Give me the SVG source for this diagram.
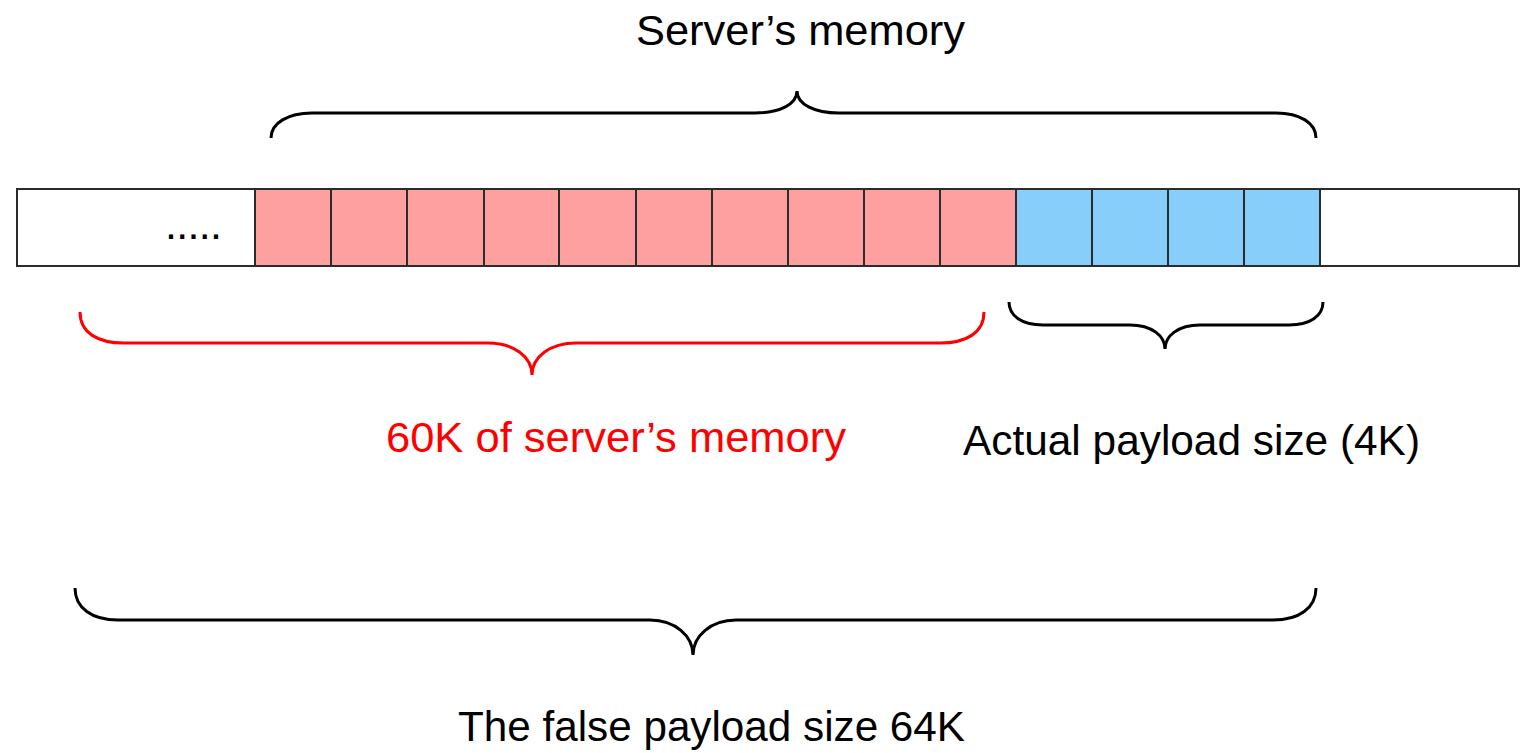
<svg xmlns="http://www.w3.org/2000/svg" width="1530" height="753" viewBox="0 0 1530 753">
  <style>
    .cell { stroke: #2b2b2b; stroke-width: 2; }
    .blank { fill: #ffffff; }
    .leak { fill: #ffa0a0; }
    .payload { fill: #87cefa; }
    .brace { fill: none; stroke: #000000; stroke-width: 3; stroke-linecap: butt; }
    .brace.red { stroke: #ff0000; }
    .label { font-family: "Liberation Sans", Arial, sans-serif; font-size: 43px; fill: #000000; }
    .label.red { fill: #ff0000; }
  </style>

  <rect width="1530" height="753" fill="#ffffff"/>

  <!-- memory strip -->
  <g id="memory-strip">
    <rect class="cell blank" x="17" y="189" width="238" height="77"/>
    <text class="label" x="165" y="239" textLength="57" lengthAdjust="spacing">.....</text>
    <rect class="cell leak" x="255" y="189" width="76" height="77"/>
    <rect class="cell leak" x="331" y="189" width="76" height="77"/>
    <rect class="cell leak" x="407" y="189" width="77" height="77"/>
    <rect class="cell leak" x="484" y="189" width="75" height="77"/>
    <rect class="cell leak" x="559" y="189" width="77" height="77"/>
    <rect class="cell leak" x="636" y="189" width="76" height="77"/>
    <rect class="cell leak" x="712" y="189" width="76" height="77"/>
    <rect class="cell leak" x="788" y="189" width="76" height="77"/>
    <rect class="cell leak" x="864" y="189" width="76" height="77"/>
    <rect class="cell leak" x="940" y="189" width="76" height="77"/>
    <rect class="cell payload" x="1016" y="189" width="76" height="77"/>
    <rect class="cell payload" x="1092" y="189" width="76" height="77"/>
    <rect class="cell payload" x="1168" y="189" width="76" height="77"/>
    <rect class="cell payload" x="1244" y="189" width="76" height="77"/>
    <rect class="cell blank" x="1320" y="189" width="199" height="77"/>
  </g>

  <!-- braces -->
  <g id="braces">
    <path id="brace-server" class="brace" d="M271,138 C271,123 288,113 312,113 L755,113 C780,113 797,104 797,91 C797,104 814,113 839,113 L1276,113 C1300,113 1316,123 1316,138"/>
    <path id="brace-leak" class="brace red" d="M80,312 C80,333 98,343 124,343 L488,343 C514,343 532,357 532,375 C532,357 550,343 576,343 L940,343 C966,343 984,333 984,312"/>
    <path id="brace-actual" class="brace" d="M1009,302 C1009,316 1022,325 1043,325 L1130,325 C1152,325 1165,336 1165,349 C1165,336 1178,325 1200,325 L1289,325 C1310,325 1323,316 1323,302"/>
    <path id="brace-false" class="brace" d="M75,588 C75,608 92,620 118,620 L650,620 C675,620 693,636 693,655 C693,636 711,620 736,620 L1273,620 C1299,620 1316,608 1316,588"/>
  </g>

  <!-- labels -->
  <g id="label-server">
    <text class="label" x="636" y="45" textLength="329" lengthAdjust="spacingAndGlyphs">Server’s memory</text>
  </g>
  <g id="label-leak">
    <text class="label red" x="386" y="452" textLength="460" lengthAdjust="spacingAndGlyphs">60K of server’s memory</text>
  </g>
  <g id="label-actual">
    <text class="label" x="963" y="455" textLength="457" lengthAdjust="spacingAndGlyphs">Actual payload size (4K)</text>
  </g>
  <g id="label-false">
    <text class="label" x="458" y="741" textLength="507" lengthAdjust="spacingAndGlyphs">The false payload size 64K</text>
  </g>
</svg>
